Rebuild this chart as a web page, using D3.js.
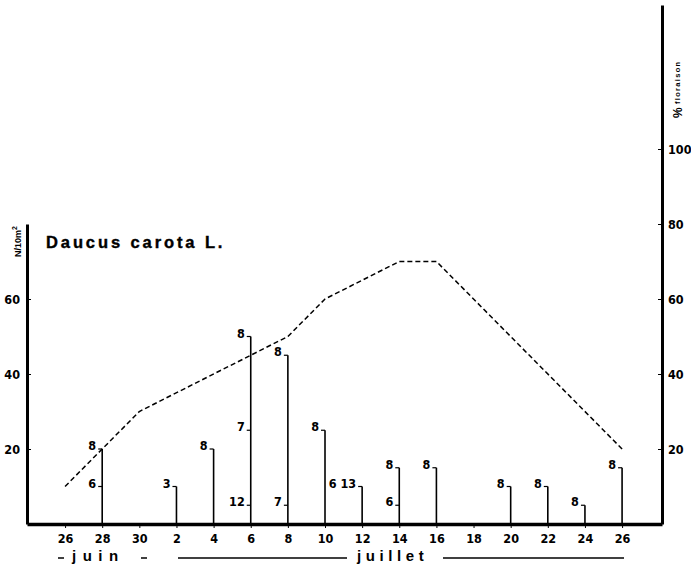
<!DOCTYPE html>
<html>
<head>
<meta charset="utf-8">
<script src="https://cdn.jsdelivr.net/npm/d3@7"></script>
<style>
  body { margin: 0; background: #fff; }
  svg { display: block; }
  .ax text { font-family: "DejaVu Sans Condensed", "Liberation Sans Narrow", sans-serif; font-weight: bold; font-size: 12.5px; fill: #000; }
  .note { font-family: "DejaVu Sans Condensed", "Liberation Sans Narrow", sans-serif; font-weight: bold; font-size: 12.5px; fill: #000; }
</style>
</head>
<body>
<svg id="chart" width="691" height="567"></svg>
<script>
// days counted from 26 June
const tickDays = [0, 2, 4, 6, 8, 10, 12, 14, 16, 18, 20, 22, 24, 26, 28, 30];
const tickLabels = ["26", "28", "30", "2", "4", "6", "8", "10", "12", "14", "16", "18", "20", "22", "24", "26"];

// N / 10 m2 bars
const barDays   = [2, 6, 8, 10, 12, 14, 16, 18, 20, 24, 26, 28, 30];
const barValues = [20, 10, 20, 50, 45, 25, 10, 15, 15, 10, 10, 5, 15];
// extra marks along bars: [value, label]
const barNotes = [
  [[20, "8"], [10, "6"]],
  [[10, "3"]],
  [[20, "8"]],
  [[50, "8"], [25, "7"], [5, "12"]],
  [[45, "8"], [5, "7"]],
  [[25, "8"]],
  [[10, "6 13"]],
  [[15, "8"], [5, "6"]],
  [[15, "8"]],
  [[10, "8"]],
  [[10, "8"]],
  [[5, "8"]],
  [[15, "8"]]
];

// % floraison (dashed)
const florDays   = [0, 2, 4, 12, 14, 18, 20, 30];
const florValues = [10, 20, 30, 50, 60, 70, 70, 20];

const leftTicks = [20, 40, 60];
const rightTicks = [20, 40, 60, 80, 100];

const svg = d3.select("#chart");

const x = d3.scaleLinear().domain([-2.05, 32.15]).range([27, 662]);
const y = d3.scaleLinear().domain([0, 80]).range([524, 224]);
const yR = d3.scaleLinear().domain([0, 138.4]).range([524, 5]);

// left axis
const gl = svg.append("g").attr("class", "ax")
    .attr("transform", "translate(27,0)")
    .call(d3.axisLeft(y).tickValues(leftTicks).tickSizeInner(-4).tickSizeOuter(0).tickPadding(7));
gl.select(".domain").attr("stroke-width", 3);

// right axis
const gr = svg.append("g").attr("class", "ax")
    .attr("transform", "translate(662,0)")
    .call(d3.axisRight(yR).tickValues(rightTicks).tickSizeInner(-4).tickSizeOuter(0).tickPadding(6));
gr.select(".domain").attr("stroke-width", 3);

// bottom axis
const gb = svg.append("g").attr("class", "ax")
    .attr("transform", "translate(0,524)")
    .call(d3.axisBottom(x).tickValues(tickDays)
      .tickFormat((d, i) => tickLabels[i]).tickSizeInner(4).tickSizeOuter(0).tickPadding(6));
gb.select(".domain").attr("stroke-width", 3.5);

// bars
svg.append("g").selectAll("line")
  .data(barDays)
  .join("line")
    .attr("x1", d => x(d)).attr("x2", d => x(d))
    .attr("y1", y(0)).attr("y2", (d, i) => y(barValues[i]))
    .attr("stroke", "#000").attr("stroke-width", 1.6);

// bar notes
const notes = [];
barDays.forEach((d, i) => barNotes[i].forEach(n => notes.push({day: d, v: n[0], t: n[1]})));
const ng = svg.append("g");
ng.selectAll("line")
  .data(notes)
  .join("line")
    .attr("x1", d => x(d.day) - 4).attr("x2", d => x(d.day))
    .attr("y1", d => y(d.v)).attr("y2", d => y(d.v))
    .attr("stroke", "#000").attr("stroke-width", 1.2);
ng.selectAll("text")
  .data(notes)
  .join("text")
    .attr("class", "note")
    .attr("x", d => x(d.day) - 6)
    .attr("y", d => y(d.v) + 1)
    .attr("text-anchor", "end")
    .text(d => d.t);

// floraison line
svg.append("path")
  .datum(florDays.map((d, i) => [d, florValues[i]]))
  .attr("d", d3.line().x(d => x(d[0])).y(d => y(d[1])))
  .attr("fill", "none")
  .attr("stroke", "#000")
  .attr("stroke-width", 1.5)
  .attr("stroke-dasharray", "5,3");

// title
svg.append("text")
  .attr("x", 46).attr("y", 248)
  .attr("font-family", "Liberation Sans, Arial, sans-serif")
  .attr("font-weight", "bold").attr("font-size", 16.5)
  .attr("letter-spacing", 2.9)
  .attr("stroke", "#000").attr("stroke-width", 0.4)
  .text("Daucus carota L.");

// left unit label
const ul = svg.append("text")
  .attr("transform", "translate(21,257) rotate(-90)")
  .attr("font-family", "Liberation Sans, Arial, sans-serif")
  .attr("font-weight", "bold").attr("font-size", 9);
ul.append("tspan").text("N/10m");
ul.append("tspan").attr("dy", -4).attr("font-size", 7).text("2");

// right unit label
const ur = svg.append("text")
  .attr("transform", "translate(682,118) rotate(-90)")
  .attr("font-family", "Liberation Sans, Arial, sans-serif")
  .attr("font-weight", "bold");
ur.append("tspan").attr("font-size", 12).text("%");
ur.append("tspan").attr("font-size", 7.5).attr("dy", -2).attr("letter-spacing", 1.3).text(" floraison");

// months
const mg = svg.append("g");
const monthFont = "Liberation Sans, Arial, sans-serif";
mg.append("text").attr("x", 72).attr("y", 561)
  .attr("font-family", monthFont).attr("font-weight", "bold").attr("font-size", 15)
  .attr("letter-spacing", 6.5).text("juin");
mg.append("text").attr("x", 357).attr("y", 561)
  .attr("font-family", monthFont).attr("font-weight", "bold").attr("font-size", 15)
  .attr("letter-spacing", 4.6).text("juillet");
[[58, 64], [141, 147], [178, 347], [443, 624]].forEach(s => {
  mg.append("line")
    .attr("x1", s[0]).attr("x2", s[1]).attr("y1", 558).attr("y2", 558)
    .attr("stroke", "#000").attr("stroke-width", 1.5);
});
</script>
</body>
</html>
